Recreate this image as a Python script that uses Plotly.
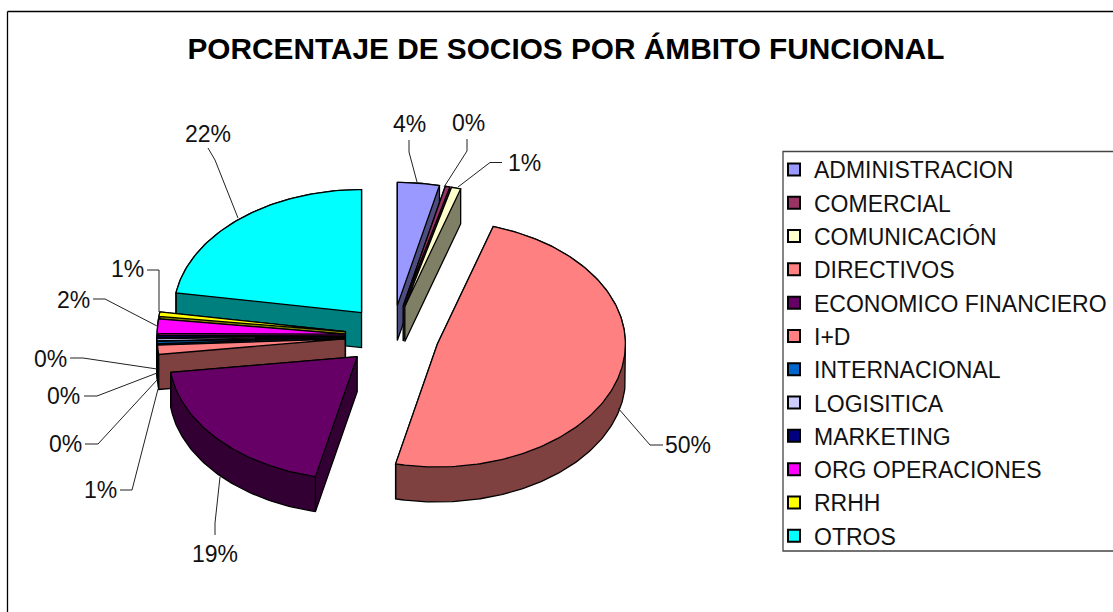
import numpy as np
import plotly.graph_objects as go

# ---- data ----
categories = ["ADMINISTRACION", "COMERCIAL", "COMUNICACIÓN", "DIRECTIVOS", "ECONOMICO FINANCIERO", "I+D",
              "INTERNACIONAL", "LOGISITICA", "MARKETING", "ORG OPERACIONES", "RRHH", "OTROS"]
values = [3.6, 0.4, 0.8, 49.6, 19.4, 1.2, 0.3, 0.3, 0.3, 1.9, 0.6, 21.6]
colors = ["#9999FF", "#993366", "#FFFFCC", "#FF8080", "#660066", "#FF8080",
          "#0066CC", "#CCCCFF", "#000080", "#FF00FF", "#FFFF00", "#00FFFF"]
title = "PORCENTAJE DE SOCIOS POR ÁMBITO FUNCIONAL"

# ---- pie projection (in page pixels) ----
CX, CY, RX, RY, EXPLODE, DEPTH = 392, 336, 188, 123, 0.25, 35
FONT = "Liberation Sans, Arial, sans-serif"
draw_order = [0, 1, 2, 11, 10, 9, 8, 7, 6, 5, 3, 4]
# the 3-D view slightly shifts drawn angles away from the true ones (degrees)
WARP_AT = [0, 17, 195, 285, 360]
WARP_BY = [0, 0, -3, -3, 0]

label_layout = [  # text centre, then leader polyline, per category
    ((409, 124), [(409, 140), (409, 152), (417, 182)]),
    ((468, 123), [(467, 139), (467, 151), (444, 187)]),
    ((524, 163), [(502, 162.5), (490, 162.5), (458, 187)]),
    ((688, 445), [(663, 445), (650, 445), (618, 408)]),
    ((215, 554), [(215, 535), (215, 523), (220, 477)]),
    ((100, 490), [(120, 490), (132, 490), (158, 389)]),
    ((65, 444), [(85, 444), (98, 444), (157, 380)]),
    ((63, 396), [(84, 396), (97, 396), (157, 373)]),
    ((50, 359), [(70, 358), (83, 358), (157, 369)]),
    ((73, 300), [(93, 299), (105, 299), (157, 326)]),
    ((127, 269), [(147, 270), (159, 270), (159, 312)]),
    ((208, 134), [(208, 148), (215, 160), (238, 218)]),
]


def darker(hex_colour):
    r, g, b = (int(hex_colour[i:i + 2], 16) // 2 for i in (1, 3, 5))
    return f"rgb({r},{g},{b})"


def hull(points):
    pts = sorted(set(points))
    def half(seq):
        out = []
        for p in seq:
            while len(out) >= 2 and (out[-1][0] - out[-2][0]) * (p[1] - out[-2][1]) - (out[-1][1] - out[-2][1]) * (p[0] - out[-2][0]) <= 0:
                out.pop()
            out.append(p)
        return out[:-1]
    return half(pts) + half(pts[::-1])


total = sum(values)
degrees = np.cumsum([0] + values) / total * 360
edges = np.radians(degrees + np.interp(degrees, WARP_AT, WARP_BY))
fig = go.Figure()

for i in draw_order:
    a0, a1 = edges[i], edges[i + 1]
    mid = (a0 + a1) / 2
    ax = CX + EXPLODE * RX * np.sin(mid)
    ay = CY - EXPLODE * RY * np.cos(mid)
    t = np.linspace(a0, a1, max(3, int((a1 - a0) * 60)))
    xs = [ax] + list(ax + RX * np.sin(t))
    ys = [ay] + list(ay - RY * np.cos(t))
    top = [(float(x), float(y)) for x, y in zip(xs, ys)]
    bottom = [(x, y + DEPTH) for x, y in top]
    outline = hull(top + bottom)
    outline.append(outline[0])
    fig.add_trace(go.Scatter(x=[p[0] for p in outline], y=[p[1] for p in outline], mode="lines", fill="toself",
                             fillcolor=darker(colors[i]), line=dict(color="black", width=1.3),
                             showlegend=False, hoverinfo="skip"))
    # visible vertical edges of the wall
    for px, py in (top[1], top[-1]):
        if np.cos(a0 if (px, py) == top[1] else a1) < 0.2:
            fig.add_trace(go.Scatter(x=[px, px], y=[py, py + DEPTH], mode="lines", line=dict(color="black", width=1.3),
                                     showlegend=False, hoverinfo="skip"))
    fig.add_trace(go.Scatter(x=xs + [xs[0]], y=ys + [ys[0]], mode="lines", fill="toself",
                             fillcolor=colors[i], line=dict(color="black", width=1.3),
                             name=categories[i], showlegend=False,
                             hovertemplate=f"{categories[i]}: {values[i]}%<extra></extra>"))

# leader lines and percentage labels
for v, ((tx, ty), leader) in zip(values, label_layout):
    fig.add_trace(go.Scatter(x=[p[0] for p in leader], y=[p[1] for p in leader], mode="lines",
                             line=dict(color="#222222", width=1), showlegend=False, hoverinfo="skip"))
    fig.add_annotation(x=tx, y=ty, xref="x", yref="y", text=f"{round(v / total * 100)}%", showarrow=False,
                       font=dict(family=FONT, size=23, color="#111111"))

# legend entries
for name, colour in zip(categories, colors):
    fig.add_trace(go.Scatter(x=[None], y=[None], mode="markers", name=name, legendgroup=name,
                             marker=dict(symbol="square", size=14, color=colour, line=dict(color="black", width=1.5))))

fig.add_shape(type="rect", xref="x", yref="y", x0=783, x1=1125, y0=151.5, y1=551,
              line=dict(color="#444444", width=1.3), fillcolor="rgba(0,0,0,0)")
fig.add_shape(type="line", xref="x", yref="y", x0=7.5, x1=7.5, y0=11.5, y1=612, line=dict(color="black", width=1.3))
fig.add_shape(type="line", xref="x", yref="y", x0=7.5, x1=1113, y0=11.5, y1=11.5, line=dict(color="black", width=1.3))

fig.update_layout(
    width=1113, height=612, margin=dict(l=0, r=0, t=0, b=0), paper_bgcolor="white", plot_bgcolor="white",
    xaxis=dict(range=[0, 1113], visible=False, fixedrange=True),
    yaxis=dict(range=[612, 0], visible=False, fixedrange=True),
    title=dict(text=f"<b>{title}</b>", x=566 / 1113, xanchor="center", y=1 - 49 / 612, yanchor="middle",
               font=dict(family=FONT, size=29.8, color="black")),
    legend=dict(x=774 / 1113, y=1 - 148 / 612, xanchor="left", yanchor="top", bgcolor="rgba(0,0,0,0)",
                font=dict(family=FONT, size=23, color="#111111"), tracegroupgap=0.4, itemsizing="constant",
                itemwidth=30),
)
fig.write_html("out.html", config={"displayModeBar": False},
               post_script="document.body.style.margin='0';document.documentElement.style.overflow='hidden';")
